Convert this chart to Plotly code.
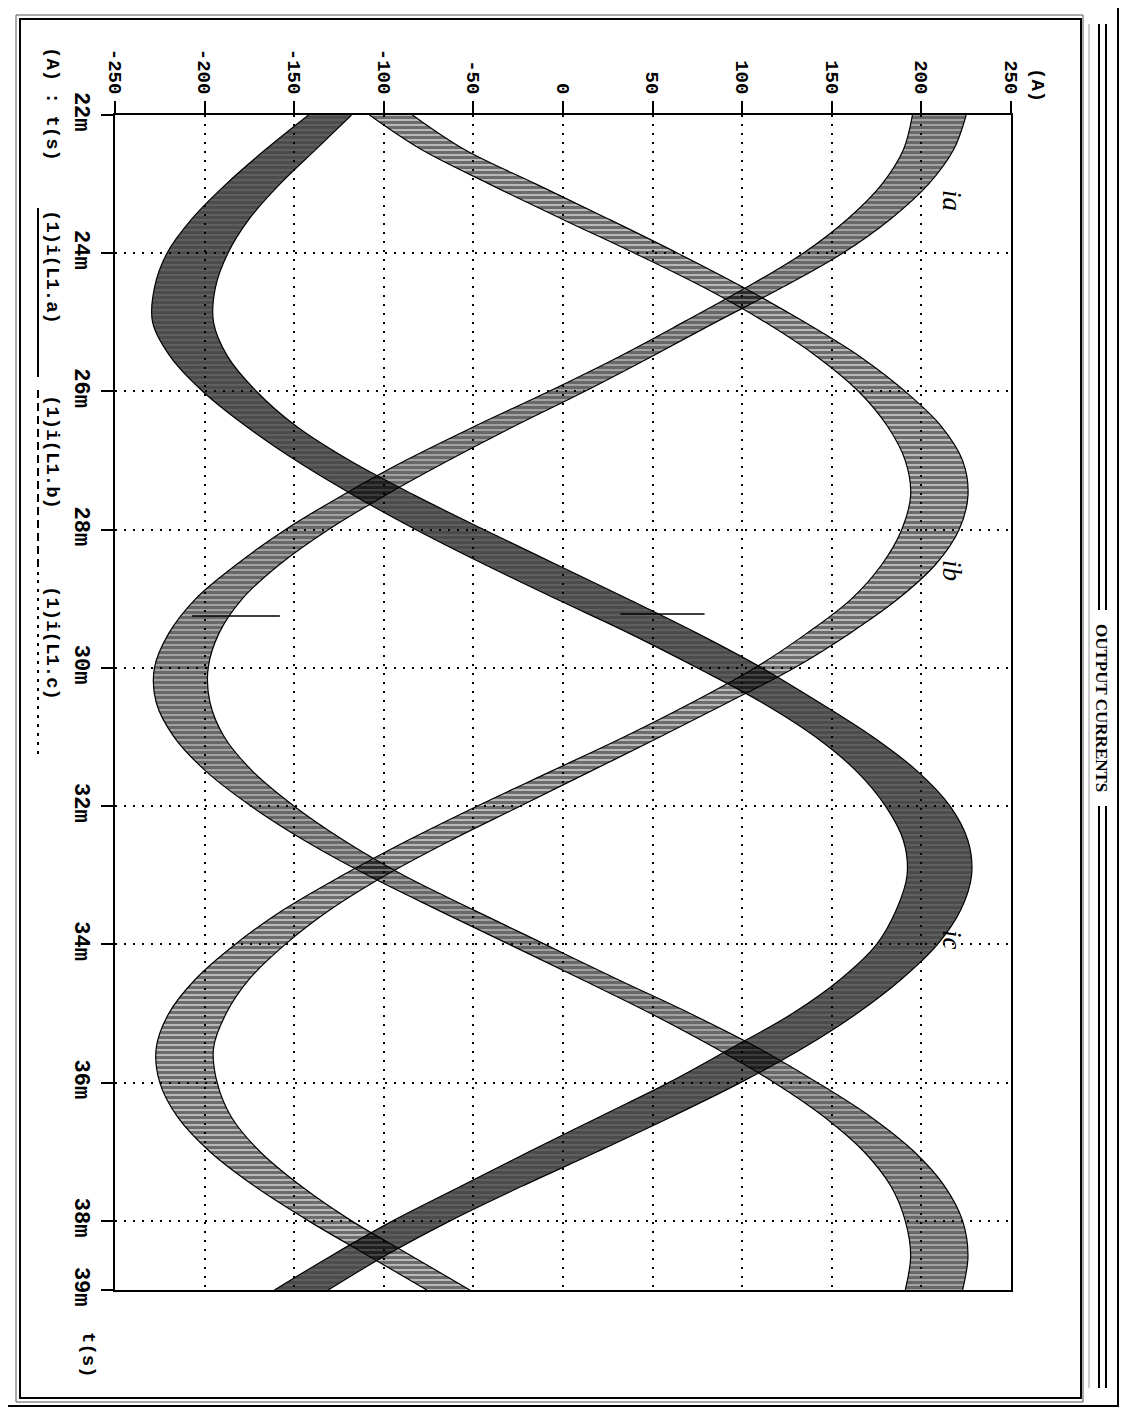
import plotly.graph_objects as go

# ---------------- data ----------------
t_ms = [22.0, 22.5, 23.0, 23.5, 24.0, 24.5, 25.0, 25.5, 26.0, 26.5, 27.0, 27.5,
        28.0, 28.5, 29.0, 29.5, 30.0, 30.5, 31.0, 31.5, 32.0, 32.5, 33.0, 33.5,
        34.0, 34.5, 35.0, 35.5, 36.0, 36.5, 37.0, 37.5, 38.0, 38.5, 39.0]

# centre of each phase current band (A)
i_a = [210, 204, 191, 171, 145, 112, 76, 40, 2, -38, -76, -111,
       -143, -170, -192, -206, -213, -212, -203, -186, -162, -133, -99, -60,
       -20, 20, 60, 97, 130, 159, 182, 198, 207, 210, 207]
i_b = [-96, -67, -28, 12, 52, 90, 124, 154, 178, 196, 207, 210,
       205, 193, 174, 148, 118, 82, 44, 4, -36, -75, -111, -143,
       -169, -190, -204, -211, -209, -200, -183, -159, -130, -97, -64]
i_c = [-130, -152, -173, -191, -204, -211, -212, -203, -186, -163, -134, -100,
       -63, -24, 16, 56, 93, 127, 157, 181, 198, 208, 210, 204,
       192, 172, 146, 114, 79, 40, 0, -40, -79, -114, -146]

# half width of the PWM ripple band (A)
rip_a = [15, 14, 13, 12, 11, 10, 9, 9, 10, 11, 12, 12,
         12, 12, 13, 14, 15, 15, 14, 13, 12, 11, 10, 10,
         10, 10, 11, 12, 12, 13, 14, 15, 16, 16, 16]
rip_b = [12, 12, 13, 13, 12, 11, 11, 12, 13, 15, 16, 16,
         16, 15, 13, 12, 11, 10, 10, 11, 12, 12, 12, 13,
         14, 15, 16, 16, 16, 15, 14, 13, 12, 12, 12]
rip_c = [12, 14, 15, 16, 17, 17, 17, 16, 15, 14, 15, 17,
         19, 20, 20, 19, 18, 16, 16, 17, 18, 18, 18, 18,
         17, 17, 18, 20, 20, 20, 19, 17, 16, 15, 15]

# isolated ripple spikes (time ms, from A, to A)
spike_t = [29.25, 29.22]
spike_lo = [-207, 32]
spike_hi = [-158, 79]

current_ticks = [-250, -200, -150, -100, -50, 0, 50, 100, 150, 200, 250]
current_labels = ["-250", "-200", "-150", "-100", "-50", "0", "50", "100", "150", "200", "250"]
time_ticks = [22, 24, 26, 28, 30, 32, 34, 36, 38, 39]
time_labels = ["22m", "24m", "26m", "28m", "30m", "32m", "34m", "36m", "38m", "39m"]

legend_labels = ["(1)i(L1.a)", "(1)i(L1.b)", "(1)i(L1.c)"]
phase_names = ["ia", "ib", "ic"]

# ---------------- figure ----------------
W, H = 1129, 1411
OFF = 8                     # page offset of the plot div (body margin)
L, R, T, B = 115 - OFF, 118 + OFF, 115 - OFF, 121 + OFF
PW, PH = W - L - R, H - T - B


def fx(px):
    """page pixel x -> paper coordinate"""
    return (px - OFF - L) / PW


def fy(py):
    """page pixel y -> paper coordinate"""
    return (H - B - (py - OFF)) / PH


fig = go.Figure()

bands = [(i_a, rip_a, 0.78, 0.18), (i_b, rip_b, 0.72, 0.15), (i_c, rip_c, 0.9, 0.4)]
for centre, rip, sol, bg in bands:
    upper = [c + r for c, r in zip(centre, rip)]
    lower = [c - r for c, r in zip(centre, rip)]
    fig.add_trace(go.Scatter(
        x=lower, y=t_ms, mode="lines",
        line=dict(color="black", width=1.2, shape="spline", smoothing=1.0),
        hoverinfo="skip", showlegend=False))
    fig.add_trace(go.Scatter(
        x=upper, y=t_ms, mode="lines", fill="tonextx",
        line=dict(color="black", width=1.2, shape="spline", smoothing=1.0),
        fillcolor="rgba(0,0,0,0)",
        fillpattern=dict(shape="-", fgcolor="black", bgcolor="rgba(0,0,0,%.2f)" % bg,
                         size=5, solidity=sol),
        hoverinfo="skip", showlegend=False))

sx, sy = [], []
for t, a, b in zip(spike_t, spike_lo, spike_hi):
    sx += [a, b, None]
    sy += [t, t, None]
fig.add_trace(go.Scatter(x=sx, y=sy, mode="lines", line=dict(color="black", width=1.5),
                         hoverinfo="skip", showlegend=False))

xtickfont = dict(family="Liberation Mono", size=19, color="black", weight="bold")
ytickfont = dict(family="Liberation Mono", size=22, color="black", weight="bold")
axis_common = dict(showline=True, linewidth=2, linecolor="black", mirror=True,
                   ticks="outside", ticklen=12, tickwidth=2, tickcolor="black",
                   showgrid=True, gridcolor="black", gridwidth=1.5, griddash="2px,7px",
                   zeroline=False, tickangle=90)

fig.update_layout(
    width=W, height=H, margin=dict(l=L, r=R, t=T, b=B),
    paper_bgcolor="white", plot_bgcolor="white", showlegend=False,
    xaxis=dict(range=[-250, 250], side="top", tickmode="array", tickfont=xtickfont,
               tickvals=current_ticks, ticktext=current_labels, **axis_common),
    yaxis=dict(range=[39, 22], tickmode="array", tickfont=ytickfont,
               tickvals=time_ticks, ticktext=time_labels, **axis_common),
)

shapes = []
# outer frame and inner frame
shapes.append(dict(type="rect", xref="paper", yref="paper", x0=fx(4), x1=fx(1118), y0=fy(1406), y1=fy(4),
                   line=dict(color="black", width=2)))
shapes.append(dict(type="rect", xref="paper", yref="paper", x0=fx(16), x1=fx(1083), y0=fy(1402), y1=fy(15),
                   line=dict(color="#555", width=1)))
shapes.append(dict(type="rect", xref="paper", yref="paper", x0=fx(20), x1=fx(1081), y0=fy(1398), y1=fy(19),
                   line=dict(color="black", width=2)))
# title strip double lines
title_c = 708
for xx in (1099, 1106):
    shapes.append(dict(type="line", xref="paper", yref="paper", x0=fx(xx), x1=fx(xx),
                       y0=fy(24), y1=fy(title_c - 98), line=dict(color="black", width=2)))
    shapes.append(dict(type="line", xref="paper", yref="paper", x0=fx(xx), x1=fx(xx),
                       y0=fy(title_c + 98), y1=fy(1388), line=dict(color="black", width=2)))
shapes.append(dict(type="line", xref="paper", yref="paper", x0=fx(1089), x1=fx(1089),
                   y0=fy(24), y1=fy(1388), line=dict(color="#999", width=1)))
# legend line samples
shapes.append(dict(type="line", xref="paper", yref="paper", x0=fx(38), x1=fx(38),
                   y0=fy(208), y1=fy(377), line=dict(color="black", width=2)))
shapes.append(dict(type="line", xref="paper", yref="paper", x0=fx(38), x1=fx(38),
                   y0=fy(390), y1=fy(575), line=dict(color="black", width=2, dash="8px,5px")))
shapes.append(dict(type="line", xref="paper", yref="paper", x0=fx(38), x1=fx(38),
                   y0=fy(580), y1=fy(755), line=dict(color="black", width=2, dash="3px,6px")))
fig.update_layout(shapes=shapes)

mono = dict(family="Liberation Mono", size=19, color="black", weight="bold")
ann = []


def add_text(text, px, py, font, anchor="top"):
    ann.append(dict(text=text, xref="paper", yref="paper", x=fx(px), y=fy(py),
                    xanchor="center", yanchor=anchor, textangle=90, showarrow=False, font=font))


add_text("(A) : t(s)", 52, 45, mono)
for lab, ystart in zip(legend_labels, [208, 393, 584]):
    add_text(lab, 52, ystart, mono)
add_text("(A)", 1037, 66, mono)
add_text("t(s)", 88, 1330, mono)
add_text("OUTPUT CURRENTS", 1102, title_c,
         dict(family="Liberation Serif", size=17, color="black", weight="bold"), anchor="middle")
for name, py in zip(phase_names, [200, 570, 940]):
    add_text(name, 952, py, dict(family="Liberation Serif", size=27, color="black", style="italic"),
             anchor="middle")
fig.update_layout(annotations=ann)

fig.write_html("out.html")
